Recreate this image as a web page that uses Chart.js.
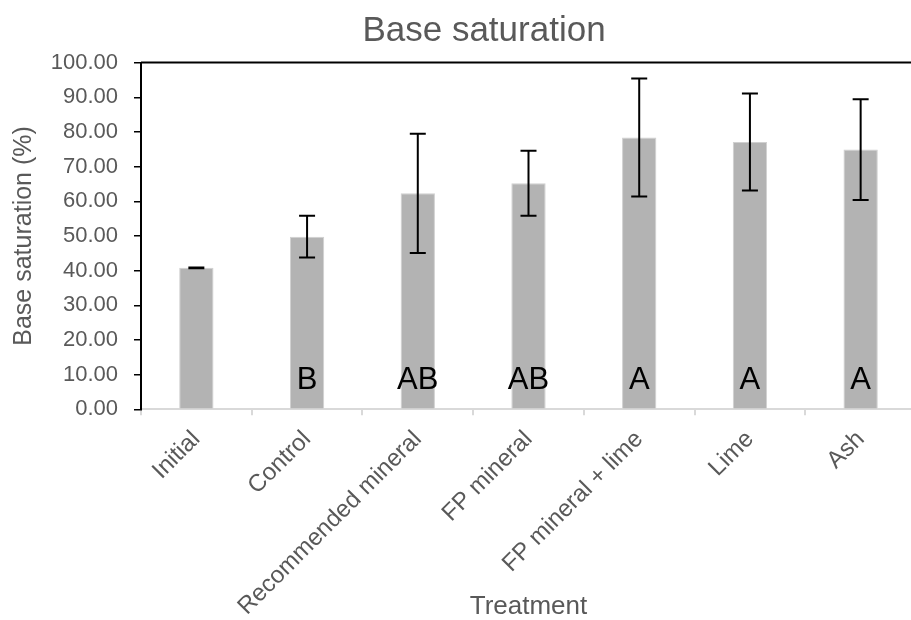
<!DOCTYPE html>
<html>
<head>
<meta charset="utf-8">
<script src="https://cdn.jsdelivr.net/npm/chart.js@4"></script>
<style>
  html, body { margin: 0; padding: 0; overflow: hidden; background: #fff; }
  canvas { display: block; }
</style>
</head>
<body>
<canvas id="c" width="968" height="620"></canvas>
<script>
const categories = ["Initial", "Control", "Recommended mineral", "FP mineral", "FP mineral + lime", "Lime", "Ash"];
const means = [40.8, 49.8, 62.3, 65.2, 78.4, 77.1, 74.9];
const errors = [0.1, 6.0, 17.2, 9.4, 17.0, 14.0, 14.5];
const letters = ["", "B", "AB", "AB", "A", "A", "A"];
const yTicks = [0, 10, 20, 30, 40, 50, 60, 70, 80, 90, 100];

const FONT = "'Liberation Sans', Arial, sans-serif";
const GREY = "#595959";

const extras = {
  id: 'extras',
  afterDatasetsDraw(chart) {
    const ctx = chart.ctx;
    const y = chart.scales.y;
    const area = chart.chartArea;
    const meta = chart.getDatasetMeta(0);
    ctx.save();
    ctx.strokeStyle = '#000';
    ctx.lineWidth = 2;
    ctx.beginPath();
    ctx.moveTo(area.left, area.top);
    ctx.lineTo(area.right, area.top);
    ctx.stroke();
    meta.data.forEach((bar, i) => {
      const x = bar.x;
      const yt = y.getPixelForValue(means[i] + errors[i]);
      const yb = y.getPixelForValue(means[i] - errors[i]);
      ctx.strokeStyle = '#000';
      ctx.lineWidth = 2;
      ctx.beginPath();
      ctx.moveTo(x, yt); ctx.lineTo(x, yb);
      ctx.moveTo(x - 8, yt); ctx.lineTo(x + 8, yt);
      ctx.moveTo(x - 8, yb); ctx.lineTo(x + 8, yb);
      ctx.stroke();
      if (letters[i]) {
        ctx.fillStyle = '#000';
        ctx.font = "31px " + FONT;
        ctx.textAlign = 'center';
        ctx.textBaseline = 'alphabetic';
        ctx.fillText(letters[i], x, y.getPixelForValue(0) - 20);
      }
    });
    ctx.restore();
  }
};

new Chart(document.getElementById('c'), {
  type: 'bar',
  data: {
    labels: categories,
    datasets: [{
      data: means,
      backgroundColor: '#b3b3b3',
      borderColor: '#d0d0d0',
      borderWidth: 1,
      barPercentage: 0.31,
      categoryPercentage: 1.0
    }]
  },
  options: {
    responsive: false,
    animation: false,
    devicePixelRatio: 1,
    layout: { padding: 0 },
    plugins: {
      legend: { display: false },
      tooltip: { enabled: false },
      title: {
        display: true,
        text: 'Base saturation',
        color: GREY,
        font: { family: FONT, size: 35, weight: 'normal', lineHeight: 1.2 },
        padding: { top: 10, bottom: 10.6 }
      }
    },
    scales: {
      x: {
        grid: { display: true, drawOnChartArea: false, drawTicks: true, tickLength: 6, color: '#d9d9d9', lineWidth: 2, offset: true },
        border: { display: true, color: '#d9d9d9', width: 2 },
        ticks: { color: GREY, font: { family: FONT, size: 24 }, minRotation: 45, maxRotation: 45, padding: 10, autoSkip: false },
        title: { display: true, text: 'Treatment', color: GREY, font: { family: FONT, size: 26, lineHeight: 1.0 }, padding: { top: 0, bottom: 0 } },
        afterFit(scale) { scale.height = 210.7; }
      },
      y: {
        min: 0, max: 100,
        afterBuildTicks(scale) { scale.ticks = yTicks.map(v => ({ value: v })); },
        grid: { display: true, drawOnChartArea: false, drawTicks: true, tickLength: 7, color: '#000', lineWidth: 1.5 },
        border: { display: true, color: '#000', width: 2 },
        ticks: { color: GREY, font: { family: FONT, size: 22 }, padding: 16, callback: v => Number(v).toFixed(2) },
        title: { display: true, text: 'Base saturation (%)', color: GREY, font: { family: FONT, size: 25, lineHeight: 1.2 }, padding: { top: 9, bottom: 0 } },
        afterFit(scale) { scale.width = 141; }
      },
      yRight: {
        position: 'right',
        display: true,
        min: 0, max: 100,
        grid: { display: false, drawTicks: false },
        border: { display: false },
        ticks: { display: false },
        afterFit(scale) { scale.width = 52; }
      }
    }
  },
  plugins: [extras]
});
</script>
</body>
</html>
